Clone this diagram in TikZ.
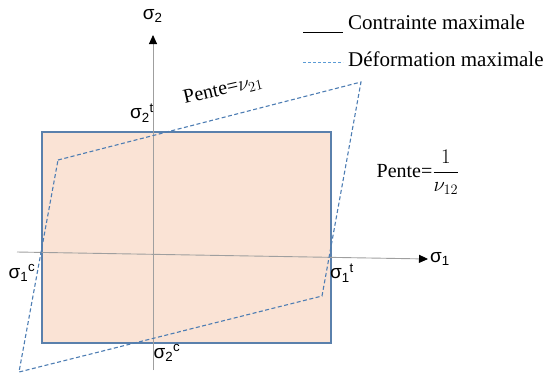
\documentclass[tikz,border=0pt]{standalone}
\usepackage{fontspec}
\setmainfont{Liberation Serif}
\newfontfamily\sigfont{Liberation Sans}
\usetikzlibrary{arrows.meta,positioning,calc}
\definecolor{boxfill}{HTML}{FAE3D5}
\definecolor{boxline}{HTML}{5A80AC}
\definecolor{dashblue}{HTML}{4D7DB3}
\definecolor{legblue}{HTML}{5B9BD5}

\newcommand{\sig}[2]{{\sigfont σ\textsubscript{#1}\textsuperscript{#2}}}

\begin{document}
\begin{tikzpicture}[x=1pt,y=-1pt,
  axis/.style={draw=gray!75, line width=0.9pt, -{Triangle[length=9pt,width=8pt,color=black]}},
  envelope/.style={draw=dashblue, line width=1.1pt, dash pattern=on 4pt off 2.5pt},
  siglbl/.style={font=\fontsize{19}{22}\selectfont, inner sep=1pt},
  pente/.style={font=\fontsize{20}{23}\selectfont, inner sep=1pt},
  legtxt/.style={font=\fontsize{21}{24}\selectfont, anchor=base west, inner sep=0pt}]
\useasboundingbox (0,0) rectangle (545,373);

% Contrainte maximale
\filldraw[fill=boxfill, draw=boxline, line width=1.3pt] (42,132) rectangle (331,343);

% axes
\coordinate (o1) at (17,252);
\coordinate (e1) at (428,259);
\coordinate (o2) at (153,370);
\coordinate (e2) at (153,35);
\draw[axis] (o1) -- (e1);
\draw[axis] (o2) -- (e2);
\node[siglbl, right=1pt of e1] (s1) {\sig{1}{}};
\node[siglbl] (s2) at (153,16) {\sig{2}{}};

% Deformation maximale
\draw[envelope] (58,160) -- (361,82) -- (322,296) -- (19,372) -- cycle;

% limits
\node[siglbl] (s2t) at (142,113) {\sig{2}{t}};
\node[siglbl] (s2c) at (167,353) {\sig{2}{c}};
\node[siglbl] (s1c) at (22,273) {\sig{1}{c}};
\node[siglbl] (s1t) at (342,273) {\sig{1}{t}};

% slopes
\node[pente, rotate=13] (p21) at (223,90) {Pente=$\nu_{21}$};
\node[pente] (p12) at (418,172) {Pente=$\displaystyle\frac{1}{\nu_{12}}$};

% legend
\coordinate (la) at (303,32);
\coordinate (lb) at (343,32);
\coordinate (lc) at (303,62);
\coordinate (ld) at (343,62);
\draw[line width=0.8pt] (la) -- (lb);
\draw[draw=legblue, line width=1pt, dash pattern=on 3pt off 2pt] (lc) -- (ld);
\node[legtxt] (leg1) at (348,29) {Contrainte maximale};
\node[legtxt] (leg2) at (348,66) {Déformation maximale};
\end{tikzpicture}
\end{document}
